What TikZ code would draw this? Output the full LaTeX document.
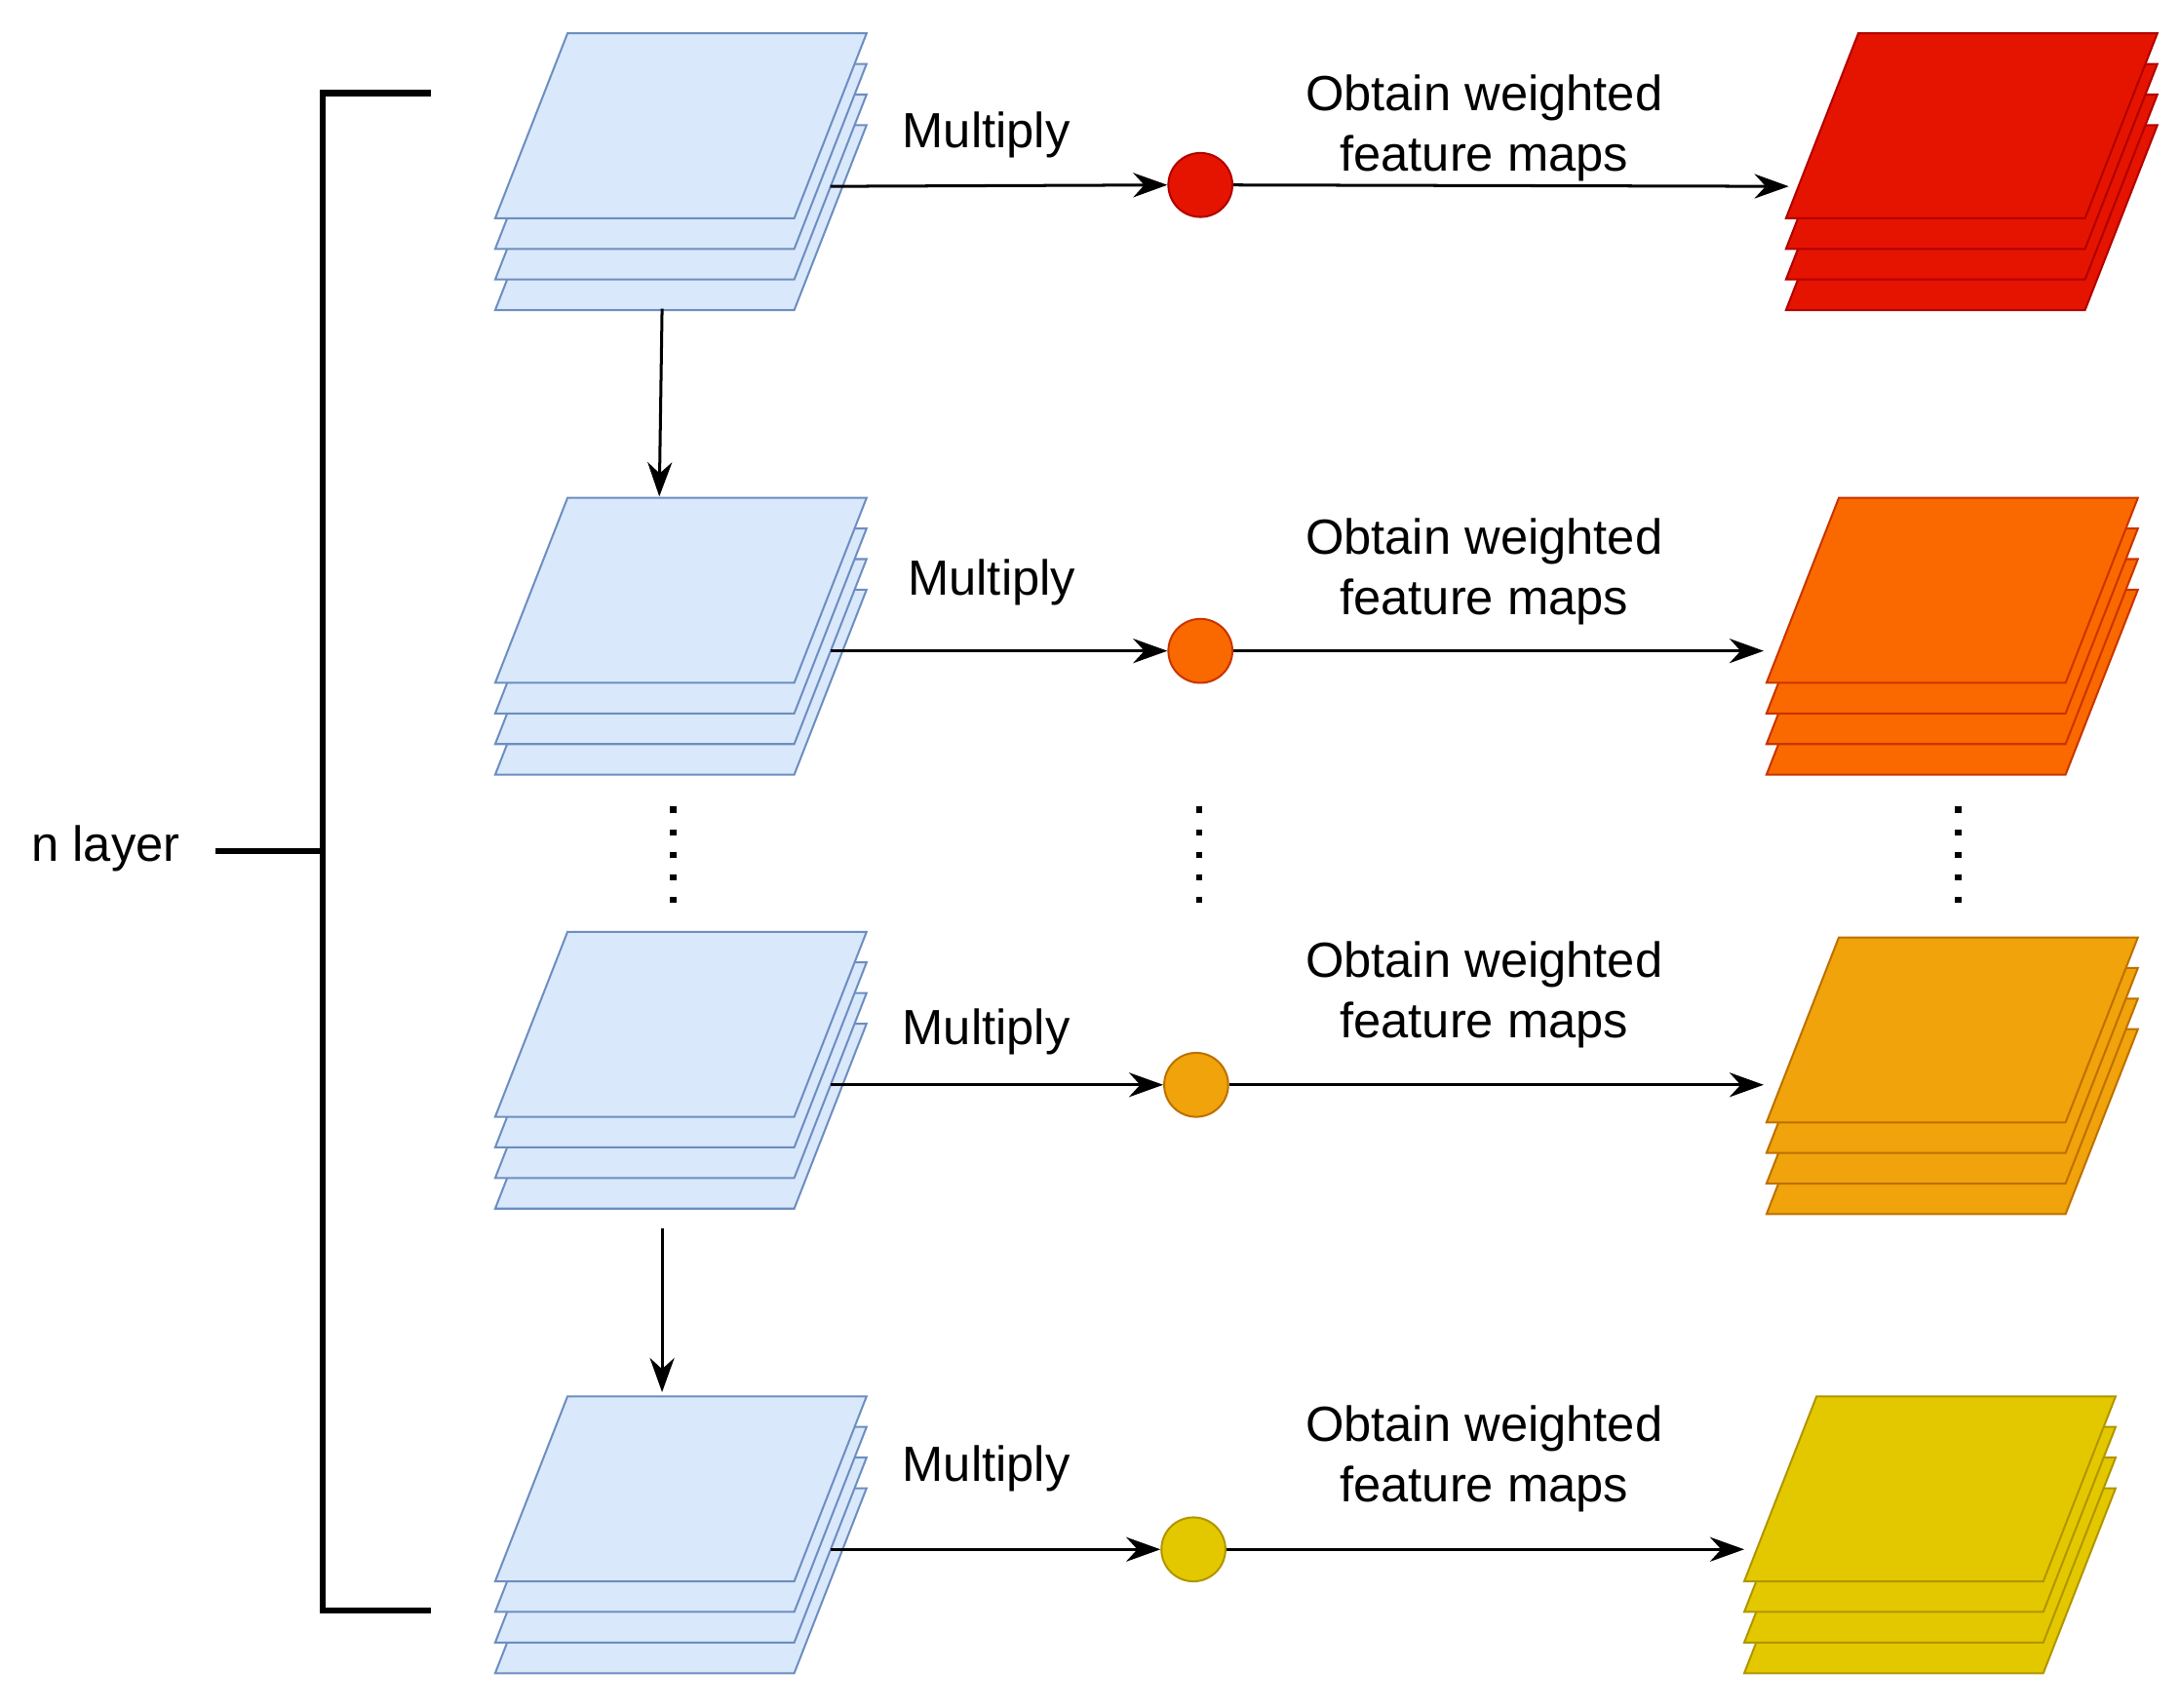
\documentclass[tikz,border=0pt]{standalone}
\usepackage{fontspec}
\setmainfont{Liberation Sans}
\usetikzlibrary{arrows.meta}
\begin{document}
\begin{tikzpicture}[x=0.01cm,y=-0.01cm,
  font=\fontsize{10.1}{12.3}\selectfont,
  sheet/.style={line width=0.4pt},
  blue/.style={fill={rgb,255:red,218;green,232;blue,252},draw={rgb,255:red,108;green,142;blue,191}},
  c1/.style={fill={rgb,255:red,229;green,20;blue,0},draw={rgb,255:red,178;green,0;blue,0}},
  c2/.style={fill={rgb,255:red,250;green,104;blue,0},draw={rgb,255:red,199;green,53;blue,0}},
  c3/.style={fill={rgb,255:red,240;green,163;blue,10},draw={rgb,255:red,189;green,112;blue,0}},
  c4/.style={fill={rgb,255:red,227;green,200;blue,0},draw={rgb,255:red,176;green,149;blue,0}},
  arr/.style={-{Stealth[length=7pt,width=5pt]},line width=0.6pt},
  dot/.style={circle,minimum size=0.46cm,inner sep=0pt},
  lbl/.style={align=center,inner sep=0pt},
  pics/stack/.style={code={
    \foreach \o in {66,44,22,0}{
      \draw[sheet,#1] (52,\o) -- (267,\o) -- (215,133+\o) -- (0,133+\o) -- cycle;}
  }}]
\useasboundingbox (0,0) rectangle (1568,1228);
% blue stacks
\pic at (356,24) {stack=blue};
\pic at (356,358) {stack=blue};
\pic at (356,670) {stack=blue};
\pic at (356,1004) {stack=blue};
% colored stacks
\pic at (1284,24) {stack=c1};
\pic at (1270,358) {stack=c2};
\pic at (1270,674) {stack=c3};
\pic at (1254,1004) {stack=c4};
% anchor coordinates
\coordinate (b1) at (597,134); \coordinate (b2) at (597,468);
\coordinate (b3) at (597,780); \coordinate (b4) at (597,1114);
\coordinate (r1) at (1286,134); \coordinate (r2) at (1268,468);
\coordinate (r3) at (1268,780); \coordinate (r4) at (1254,1114);
\coordinate (d1s) at (476,222); \coordinate (d1e) at (474,357);
\coordinate (d2s) at (476,883); \coordinate (d2e) at (476,1001);
% circles
\node[dot,c1] (o1) at (863,133) {};
\node[dot,c2] (o2) at (863,468) {};
\node[dot,c3] (o3) at (860,780) {};
\node[dot,c4] (o4) at (858,1114) {};
\foreach \i in {1,2,3,4}{
  \draw[arr] (b\i) -- (o\i.west);
  \draw[arr] (o\i.east) -- (r\i);}
\draw[arr] (d1s) -- (d1e);
\draw[arr] (d2s) -- (d2e);
% labels
\node[lbl] (m1) at (709,97) {Multiply};
\node[lbl] (m2) at (713,419) {Multiply};
\node[lbl] (m3) at (709,742) {Multiply};
\node[lbl] (m4) at (709,1056) {Multiply};
\node[lbl] (w1) at (1067,92) {Obtain weighted\\feature maps};
\node[lbl] (w2) at (1067,411) {Obtain weighted\\feature maps};
\node[lbl] (w3) at (1067,715) {Obtain weighted\\feature maps};
\node[lbl] (w4) at (1067,1049) {Obtain weighted\\feature maps};
% dots
\foreach \x in {484,862,1408}
  \draw[line width=1.3pt,dash pattern=on 1.3pt off 3.3pt] (\x,580) -- (\x,656);
% bracket
\draw[line width=1.3pt] (310,67) -- (232,67) -- (232,1158) -- (310,1158);
\draw[line width=1.3pt] (155,612) -- (232,612);
\node[lbl] (n) at (76,610) {n layer};
\end{tikzpicture}
\end{document}
